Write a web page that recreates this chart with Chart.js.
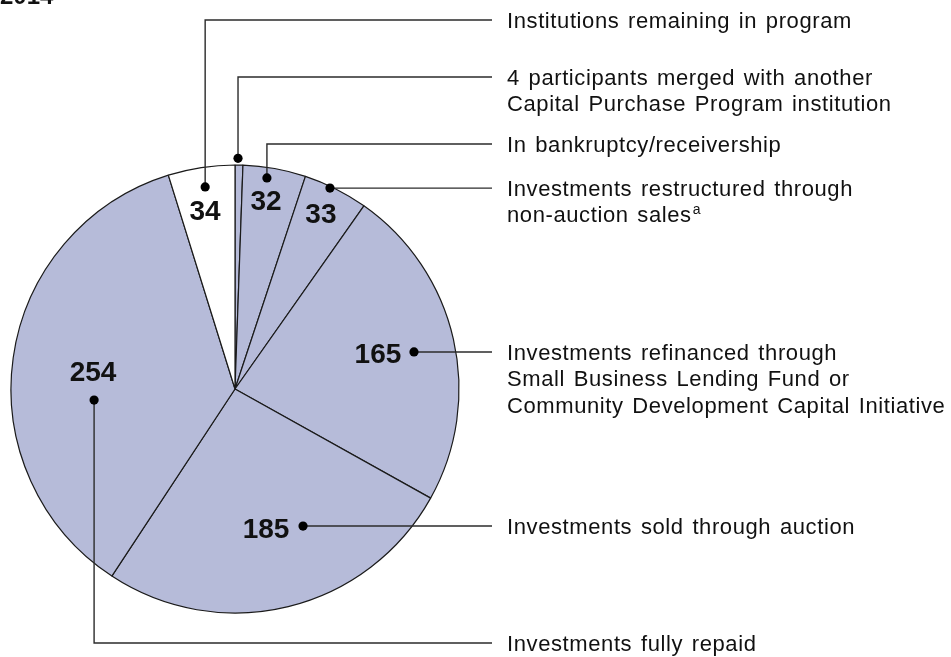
<!DOCTYPE html>
<html>
<head>
<meta charset="utf-8">
<script src="https://cdn.jsdelivr.net/npm/chart.js@4.4.1/dist/chart.umd.min.js"></script>
<style>
  html, body { margin: 0; padding: 0; background: #fff; }
  #wrap { position: relative; width: 951px; height: 657px; }
</style>
</head>
<body>
<div id="wrap"><canvas id="pie" width="951" height="657"></canvas></div>
<script>
// slices, clockwise from 12 o'clock
const categories = [
  "4 participants merged with another\nCapital Purchase Program institution",
  "In bankruptcy/receivership",
  "Investments restructured through\nnon-auction sales^a",
  "Investments refinanced through\nSmall Business Lending Fund or\nCommunity Development Capital Initiative",
  "Investments sold through auction",
  "Investments fully repaid",
  "Institutions remaining in program"
];
const counts = [4, 32, 33, 165, 185, 254, 34];
const showCount = [false, true, true, true, true, true, true];
const yearLabel = "2014";

// label placement: [degrees clockwise from top, fraction of radius]
const dotPos = [[0.75, 1.03], [8.6, 0.953], [25.3, 0.992], [78.3, 0.816], [153.6, 0.683], [265.5, 0.631], [351.6, 0.912]];
const numPos = [null, [9.3, 0.855], [26.0, 0.875], [75.9, 0.658], [167.4, 0.636], [277.2, 0.639], [350.5, 0.81]];
const route = ["up", "up", "right", "right", "right", "down", "up"];
const textY = [77, 144, null, null, null, 643, 20];

const FONT = "'Liberation Sans', Arial, Helvetica, sans-serif";
const LAVENDER = "#b6bbd9";
const LINE_END_X = 492;
const TEXT_X = 507;
const LINE_H = 26.5;

function polar(cx, cy, r, deg, frac) {
  const a = (deg - 90) * Math.PI / 180;
  return { x: cx + Math.cos(a) * r * frac, y: cy + Math.sin(a) * r * frac };
}

const calloutPlugin = {
  id: "callouts",
  afterDraw(chart) {
    const ctx = chart.ctx;
    const arc = chart.getDatasetMeta(0).data[0];
    const cx = arc.x, cy = arc.y, R = arc.outerRadius;

    ctx.save();
    // leader lines
    ctx.strokeStyle = "#2b2b2b";
    ctx.lineWidth = 1.4;
    categories.forEach((label, i) => {
      const d = polar(cx, cy, R, dotPos[i][0], dotPos[i][1]);
      const ty = route[i] === "right" ? d.y : textY[i];
      ctx.beginPath();
      ctx.moveTo(d.x, d.y);
      if (route[i] !== "right") ctx.lineTo(d.x, ty);
      ctx.lineTo(LINE_END_X, ty);
      ctx.stroke();

      ctx.fillStyle = "#000";
      ctx.beginPath();
      ctx.arc(d.x, d.y, 4.6, 0, Math.PI * 2);
      ctx.fill();

      // label text, first line centred on the leader
      ctx.fillStyle = "#111";
      ctx.textBaseline = "alphabetic";
      ctx.textAlign = "left";
      ctx.letterSpacing = "0.6px";
      ctx.wordSpacing = "2px";
      label.split("\n").forEach((line, k) => {
        const base = ty + 7.8 + k * LINE_H;
        const parts = line.split("^");
        ctx.font = "22px " + FONT;
        ctx.fillText(parts[0], TEXT_X, base);
        if (parts[1]) {
          const w = ctx.measureText(parts[0]).width;
          ctx.font = "14px " + FONT;
          ctx.fillText(parts[1], TEXT_X + w + 1, base - 8);
        }
      });
      ctx.letterSpacing = "0px";
      ctx.wordSpacing = "0px";
    });

    // slice counts
    ctx.font = "bold 28px " + FONT;
    ctx.textAlign = "center";
    ctx.fillStyle = "#111";
    counts.forEach((v, i) => {
      if (!showCount[i]) return;
      const p = polar(cx, cy, R, numPos[i][0], numPos[i][1]);
      ctx.fillText(String(v), p.x, p.y + 10);
    });

    // year heading, cut off at the top edge
    ctx.textAlign = "left";
    ctx.font = "bold 24px " + FONT;
    ctx.fillText(yearLabel, 0, 3.5);
    ctx.restore();
  }
};

new Chart(document.getElementById("pie"), {
  type: "pie",
  data: {
    labels: categories,
    datasets: [{
      data: counts,
      backgroundColor: counts.map((v, i) => i === counts.length - 1 ? "#ffffff" : LAVENDER),
      borderColor: "#1a1a1a",
      borderWidth: 1.2,
      radius: 224
    }]
  },
  options: {
    responsive: false,
    animation: false,
    layout: { padding: { left: 11, right: 492, top: 165, bottom: 44 } },
    plugins: {
      legend: { display: false },
      tooltip: { enabled: false }
    }
  },
  plugins: [calloutPlugin]
});
</script>
</body>
</html>
